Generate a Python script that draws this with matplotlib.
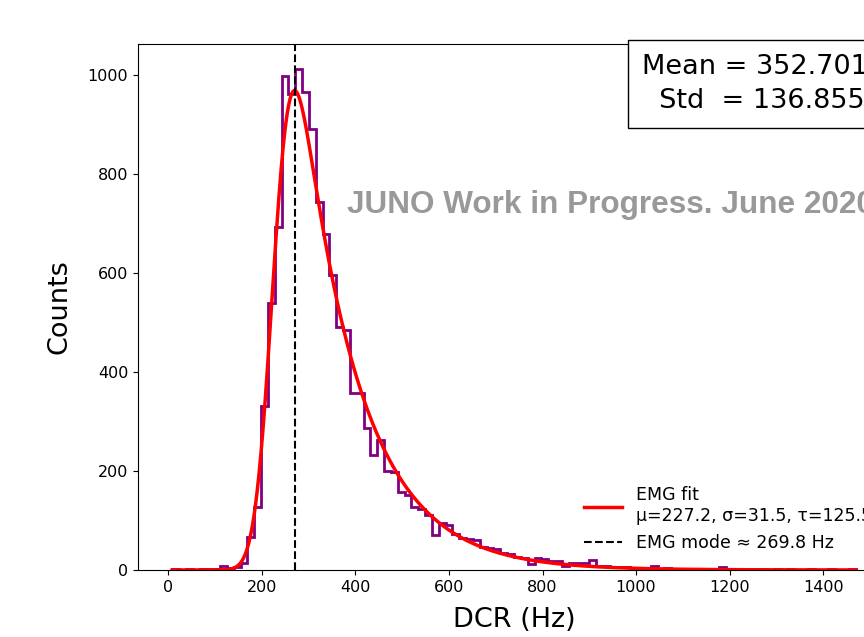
import math
import numpy as np
import matplotlib
matplotlib.use('Agg')
import matplotlib.pyplot as plt

# histogram of DCR values (100 equal bins between min and max)
dcr_min = 8.0
dcr_max = 1470.0
n_bins = 100
counts = [1, 0, 1, 0, 1, 2, 3, 9, 4, 6, 14,
          67, 127, 330, 538, 692, 998, 961, 1011, 964, 890,
          742, 679, 595, 490, 484, 358, 358, 286, 232, 262,
          200, 198, 158, 152, 128, 124, 110, 70, 94, 90,
          72, 64, 62, 60, 47, 44, 43, 34, 32, 27,
          25, 13, 24, 23, 19, 18, 8, 15, 14, 14, 20,
          9, 8, 7, 6, 6, 5, 5, 4, 9, 3,
          4, 3, 2, 3, 2, 2, 1, 2, 6, 1,
          1, 1, 0, 1, 1, 0, 1, 0, 1, 0,
          0, 1, 0, 0, 1, 0, 0, 1]

# EMG fit parameters
mu, sigma, tau = 227.2, 31.5, 125.5
emg_mode = 269.8
mean_dcr = 352.701
std_dcr = 136.855

edges = np.linspace(dcr_min, dcr_max, n_bins + 1)
bin_width = edges[1] - edges[0]
counts = np.array(counts, dtype=float)

erfc = np.vectorize(math.erfc)


def emg_pdf(x):
    lam = 1.0 / tau
    return (lam / 2) * np.exp((lam / 2) * (2 * mu + lam * sigma**2 - 2 * x)) * \
        erfc((mu + lam * sigma**2 - x) / (math.sqrt(2) * sigma))


xfit = np.linspace(dcr_min, dcr_max, 1000)
yfit = emg_pdf(xfit) * counts.sum() * bin_width * 0.99

fig = plt.figure(figsize=(8.64, 6.37), dpi=100)
ax = fig.add_axes([0.1597, 0.1052, 0.8704, 0.8257])

ax.hist(edges[:-1], bins=edges, weights=counts, histtype='step',
        color='purple', linewidth=2)
ax.plot(xfit, yfit, color='red', linewidth=2.5,
        label='EMG fit\nμ=%.1f, σ=%.1f, τ=%.1f' % (mu, sigma, tau))
ax.axvline(emg_mode, color='black', linestyle='--', linewidth=1.5,
           label='EMG mode ≈ %.1f Hz' % emg_mode)

ax.set_xticks([0, 200, 400, 600, 800, 1000, 1200, 1400])
ax.set_yticks([0, 200, 400, 600, 800, 1000])
ax.tick_params(labelsize=11.5)
ax.set_xlabel('DCR (Hz)', fontsize=19.5, labelpad=9)
ax.set_ylabel('Counts', fontsize=19.5, labelpad=11)

ax.legend(loc='lower right', frameon=False, fontsize=12.5,
          borderaxespad=0.65, handlelength=2.2)

fig.text(0.7427, 0.9152, 'Mean = %.3f\n  Std  = %.3f' % (mean_dcr, std_dcr),
         fontsize=19.5, ha='left', va='top', linespacing=1.4,
         bbox=dict(boxstyle='square,pad=0.5', facecolor='white',
                   edgecolor='black', linewidth=1))

fig.text(0.4016, 0.666, 'JUNO Work in Progress. June 2020',
         fontsize=22.7, fontweight='bold', color='#999999',
         family='Liberation Sans', ha='left', va='baseline')

fig.savefig('out.png', dpi=100)
